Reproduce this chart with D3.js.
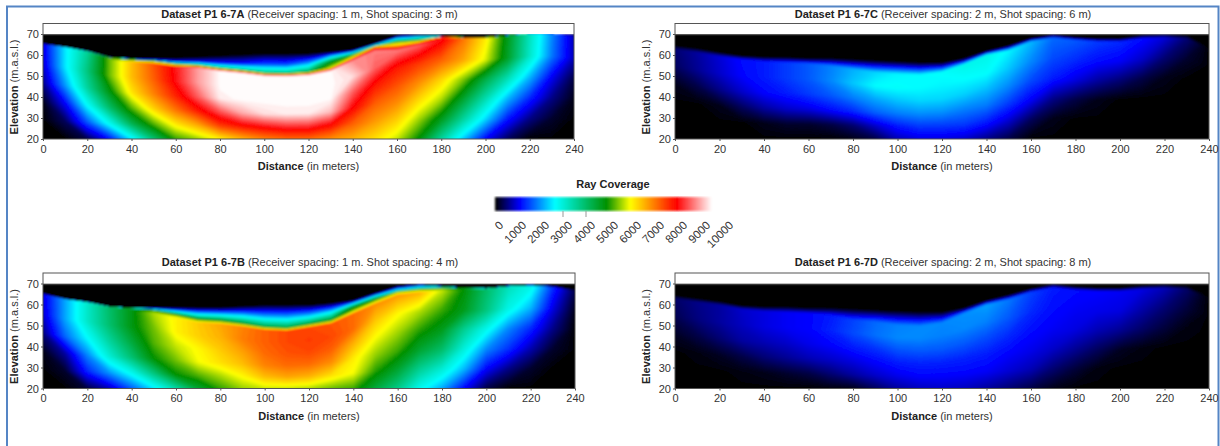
<!DOCTYPE html>
<html lang="en">
<head>
<meta charset="UTF-8">
<title>Ray coverage</title>
<script src="https://d3js.org/d3.v7.min.js"></script>
<style>
    body { margin: 0; background: #fff; overflow: hidden; }
    svg { display: block; }
    text { font-family: "Liberation Sans", Arial, sans-serif; fill: #333; }
    .tick text { font-size: 11px; }
    .tick line, .domain { stroke: #555; }
    .title, .axis-title { font-size: 11px; }
    .b { font-weight: bold; fill: #222; }
</style>
</head>
<body>
<svg width="1220" height="446"></svg>
<script>
const distances = d3.range(0, 241, 10);
const xTicks = d3.range(0, 241, 20);
const yTicks = [20, 30, 40, 50, 60, 70];
const legendLabels = d3.range(0, 10001, 1000);
const legendTicks = [3000, 4000];
const colorStops = [0, 1150, 2770, 5150, 6230, 8380, 10000];
const colorRange = ["#000000", "#0000ff", "#00ffff", "#009000", "#ffff00", "#ff0000", "#ffffff"];

// elevation of the upper edge of coverage and of the sharp line under it, every 10 m
const upperA = [65, 63.5, 61.5, 58.5, 58, 58, 58, 58.5, 59, 59.5, 60, 60, 60, 61, 62, 65, 68.5, 69, 68.5, 68, 68, 69, 70, 70, 69];
const lineA = [65, 63.5, 61.5, 58.5, 57.5, 56.5, 55, 54.5, 53, 52, 50.7, 50.5, 51, 53, 58, 62.7, 63, 65.5, 68, 68, 68, 69, 70, 70, 69];
const upperB = [64.8, 62.3, 60.8, 58.6, 58, 58, 58, 58, 58, 58.5, 59, 59, 59, 60, 61.5, 65, 68, 68.9, 68.2, 67.5, 67.3, 68.3, 68.8, 68.2, 66.5];
const lineB = [64.8, 62.3, 60.8, 58.6, 57.8, 56.7, 54.5, 52.2, 51.5, 50.2, 48.6, 48.1, 49.8, 51.6, 56.3, 61, 65.2, 66.5, 67.4, 67.5, 67.3, 68.3, 68.8, 68.2, 66.5];
const upperC = [64, 62.5, 60.5, 59, 58.5, 58.5, 58, 58, 57.5, 57, 56.5, 56, 56, 58, 61.5, 64, 67.5, 69, 68, 67.5, 67.5, 69, 69.5, 69, 65];
const lineC = [63.5, 62, 60, 58.5, 57.5, 57, 56.5, 55.5, 54, 52.5, 51.7, 51.2, 52.5, 56, 60.5, 62.8, 67, 68.8, 67.7, 67, 67, 68.5, 69, 68.5, 64];
const upperD = [64, 62.5, 61, 59, 58.5, 58.5, 58, 58, 57.5, 57, 56.5, 56, 56, 58, 61.5, 64, 67, 69, 68, 67.5, 67.5, 68.5, 69, 68.5, 65];
const lineD = [63.5, 62, 60.5, 58.5, 57.5, 57, 56.5, 55.5, 53.5, 52.5, 51, 50.5, 52, 56.5, 60.5, 63, 66.5, 68.6, 67.5, 67, 67, 68, 68.5, 68, 64];

// one line per distance: coverage from the upper edge down to 20 m
const coverageA = [
    [1000, 1000, 1000, 1000, 900, 600, 100, 0, 0],
    [2600, 2600, 2600, 2600, 2600, 2100, 1150, 400, 0],
    [3800, 3800, 3800, 3800, 4000, 3700, 2800, 1700, 300],
    [5600, 5600, 5600, 5600, 5600, 5000, 4200, 2900, 1200],
    [400, 2000, 5000, 6800, 6800, 6450, 5500, 4400, 2600],
    [300, 2000, 5000, 7700, 7600, 7300, 6600, 5500, 4100],
    [300, 1500, 4500, 8550, 8500, 8100, 7400, 6400, 5350],
    [200, 1300, 4000, 9400, 9400, 9000, 8200, 7000, 5800],
    [200, 1300, 4000, 10000, 10000, 9900, 8900, 7900, 6350],
    [200, 1300, 4000, 10000, 10000, 10000, 9500, 8300, 6900],
    [200, 1700, 4000, 10000, 10000, 10000, 9800, 8500, 7300],
    [200, 1700, 4000, 10000, 10000, 10000, 9900, 8700, 7500],
    [300, 2400, 4500, 10000, 10000, 10000, 9900, 8700, 7500],
    [300, 4800, 6000, 10000, 10000, 10000, 9600, 8300, 7200],
    [500, 5000, 6500, 9300, 9800, 9000, 8400, 7600, 6900],
    [800, 6200, 7500, 9200, 9000, 8200, 7600, 7100, 6500],
    [1000, 5800, 7500, 9200, 8200, 7700, 7200, 6600, 6000],
    [1500, 4500, 6500, 9000, 7900, 7200, 6500, 5800, 5100],
    [3000, 7000, 8300, 8500, 7600, 6600, 5900, 4900, 3700],
    [7400, 7400, 7400, 7400, 7000, 5700, 4700, 3700, 2400],
    [6400, 6400, 6400, 6400, 6100, 4500, 3500, 2500, 1150],
    [4900, 4900, 4900, 4900, 4800, 3500, 2300, 1300, 400],
    [3400, 3400, 3400, 3400, 3300, 2300, 1400, 600, 0],
    [2000, 2000, 2000, 2000, 1900, 1100, 600, 200, 0],
    [800, 800, 800, 800, 800, 300, 100, 0, 0]
];
const coverageB = [
    [1000, 1000, 1000, 1000, 900, 550, 100, 0, 0],
    [2200, 2200, 2200, 2200, 2200, 1800, 700, 200, 0],
    [3300, 3300, 3300, 3300, 3300, 2750, 2000, 1350, 250],
    [4200, 4200, 4200, 4200, 4150, 3700, 3170, 2100, 800],
    [3500, 4500, 5000, 5000, 5000, 4600, 4100, 2900, 1700],
    [1000, 3500, 5200, 5900, 5650, 5500, 5150, 4000, 2600],
    [500, 3000, 5200, 6350, 6350, 6000, 5650, 5150, 3600],
    [300, 2800, 5000, 6700, 6650, 6300, 6200, 5500, 4700],
    [300, 2800, 5000, 7000, 6900, 6700, 6500, 5900, 5350],
    [300, 2700, 4800, 7300, 7350, 7050, 6800, 6300, 5800],
    [300, 2400, 4600, 7600, 7600, 7500, 7300, 6800, 6000],
    [300, 2400, 4600, 7800, 7800, 7700, 7500, 7000, 6000],
    [400, 2500, 4800, 7800, 7900, 7800, 7500, 6900, 5900],
    [400, 3000, 5000, 7700, 7800, 7600, 7200, 6500, 5600],
    [500, 5000, 5600, 7500, 7500, 6900, 6400, 6200, 5400],
    [500, 4500, 5600, 7200, 6700, 6230, 5800, 5300, 4600],
    [1000, 3000, 5500, 7100, 6300, 5850, 5400, 4700, 3900],
    [1500, 3300, 5300, 6900, 5900, 5300, 4700, 3800, 2900],
    [3000, 4500, 5500, 6000, 5400, 4900, 4200, 3200, 2200],
    [5100, 5100, 5100, 5100, 4900, 3800, 3100, 2300, 1150],
    [4200, 4200, 4200, 4200, 4000, 2900, 2000, 1150, 300],
    [3400, 3400, 3400, 3400, 3000, 2000, 1450, 600, 0],
    [2950, 2950, 2950, 2950, 2300, 1400, 800, 200, 0],
    [1400, 1400, 1400, 1400, 1000, 600, 200, 0, 0],
    [300, 300, 300, 300, 100, 0, 0, 0, 0]
];
const coverageC = [
    [100, 500, 400, 100, 0, 0, 0],
    [200, 700, 650, 300, 0, 0, 0],
    [300, 950, 900, 600, 100, 0, 0],
    [300, 1200, 1150, 900, 400, 0, 0],
    [200, 1300, 1300, 1150, 700, 100, 0],
    [100, 1500, 1500, 1300, 900, 200, 0],
    [100, 1700, 1700, 1500, 1000, 200, 0],
    [100, 1950, 2000, 1700, 1200, 300, 0],
    [100, 2250, 2400, 1950, 1400, 500, 100],
    [100, 2500, 2750, 2200, 1750, 900, 300],
    [100, 2700, 2800, 2400, 1950, 1300, 800],
    [100, 2750, 2750, 2500, 2050, 1500, 1000],
    [100, 2800, 2700, 2500, 2050, 1500, 1000],
    [100, 2950, 2750, 2450, 1950, 1500, 900],
    [200, 2950, 2800, 2350, 1900, 1300, 600],
    [300, 2700, 2400, 2000, 1500, 900, 300],
    [300, 2300, 2000, 1600, 1100, 400, 0],
    [300, 1800, 1600, 1300, 600, 100, 0],
    [200, 1700, 1400, 1000, 300, 0, 0],
    [100, 1500, 1200, 700, 100, 0, 0],
    [100, 1400, 1100, 500, 0, 0, 0],
    [100, 1200, 900, 300, 0, 0, 0],
    [100, 950, 500, 100, 0, 0, 0],
    [50, 500, 200, 0, 0, 0, 0],
    [0, 0, 0, 0, 0, 0, 0]
];
const coverageD = [
    [50, 450, 350, 150, 0, 0, 0],
    [50, 600, 550, 300, 50, 0, 0],
    [100, 700, 700, 500, 150, 0, 0],
    [100, 900, 850, 700, 300, 50, 0],
    [100, 1000, 1000, 800, 500, 100, 0],
    [100, 1100, 1100, 900, 650, 200, 0],
    [100, 1150, 1150, 1050, 800, 300, 0],
    [100, 1300, 1350, 1150, 900, 500, 50],
    [100, 1550, 1600, 1300, 1000, 700, 100],
    [100, 1800, 1850, 1450, 1150, 900, 400],
    [100, 1950, 2000, 1650, 1300, 1050, 700],
    [100, 2000, 2000, 1700, 1350, 1150, 850],
    [100, 2000, 1950, 1700, 1350, 1150, 900],
    [100, 2050, 2000, 1700, 1350, 1150, 850],
    [200, 2150, 1950, 1600, 1300, 1100, 700],
    [250, 1900, 1700, 1400, 1150, 950, 500],
    [250, 1550, 1400, 1200, 1050, 800, 300],
    [250, 1300, 1200, 1100, 900, 500, 100],
    [150, 1200, 1100, 1000, 650, 250, 0],
    [100, 1150, 1050, 800, 400, 50, 0],
    [100, 1100, 1000, 650, 150, 0, 0],
    [100, 1000, 750, 450, 50, 0, 0],
    [100, 800, 500, 250, 0, 0, 0],
    [50, 450, 250, 50, 0, 0, 0],
    [0, 0, 0, 0, 0, 0, 0]
];

// where each value row sits: named edges, or a fraction of the way from the line down to 20 m
const rowsWithBand = ["upper", "mid", "above", "below", 0.2, 0.4, 0.6, 0.8, 1];
const rowsPlain = ["upper", "below", 0.2, 0.4, 0.6, 0.8, 1];

const panels = [
    { bold: "Dataset P1 6-7A", rest: " (Receiver spacing: 1 m, Shot spacing: 3 m)", left: 43, right: 574, bottom: 139, titleY: 18, upper: upperA, line: lineA, coverage: coverageA, rows: rowsWithBand },
    { bold: "Dataset P1 6-7C", rest: " (Receiver spacing: 2 m, Shot spacing: 6 m)", left: 675, right: 1209, bottom: 139, titleY: 18, upper: upperC, line: lineC, coverage: coverageC, rows: rowsPlain },
    { bold: "Dataset P1 6-7B", rest: " (Receiver spacing: 1 m. Shot spacing: 4 m)", left: 43, right: 575, bottom: 388.5, titleY: 266, upper: upperB, line: lineB, coverage: coverageB, rows: rowsWithBand },
    { bold: "Dataset P1 6-7D", rest: " (Receiver spacing: 2 m, Shot spacing: 8 m)", left: 675, right: 1209, bottom: 388.5, titleY: 266, upper: upperD, line: lineD, coverage: coverageD, rows: rowsPlain }
];

const svg = d3.select("svg");
const color = d3.scaleLinear().domain(colorStops).range(colorRange).clamp(true);
const thresholds = d3.range(20, 3000, 20).concat(d3.range(3000, 10000, 80));

const defs = svg.append("defs");
defs.append("filter").attr("id", "soft")
    .attr("x", "-2%").attr("y", "-5%").attr("width", "104%").attr("height", "110%")
    .append("feGaussianBlur").attr("stdDeviation", 0.9);

svg.append("rect").attr("x", 7).attr("y", 6.5).attr("width", 1211.5).attr("height", 460)
    .attr("fill", "#fff").attr("stroke", "#5585c5").attr("stroke-width", 2);

function rowElevation(kind, upper, line) {
    const mid = (upper + line) / 2;
    if (kind === "upper") return upper;
    if (kind === "mid") return mid;
    if (kind === "above") return Math.min(line + 0.8, mid);
    if (kind === "below") return line - 0.8;
    return line - 0.8 - kind * (line - 0.8 - 20);
}

panels.forEach((p, index) => {
    const x = d3.scaleLinear().domain([0, 240]).range([p.left, p.right]);
    const y = d3.scaleLinear().domain([20, 70]).range([p.bottom, p.bottom - 105]);
    const g = svg.append("g");
    const clipId = "plot" + index;
    defs.append("clipPath").attr("id", clipId).append("rect")
        .attr("x", x(0)).attr("y", y(70)).attr("width", x(240) - x(0)).attr("height", y(20) - y(70));

    // grid with a spare column each side and a spare row below, so the blur does not eat the edges
    const cols = [0].concat(d3.range(25), [24]);
    const colDist = [-10].concat(distances, [250]);
    const nx = cols.length;
    const ny = p.rows.length + 3;
    const values = new Array(nx * ny);
    const elev = new Array(nx * ny);
    cols.forEach((c, i) => {
        const top = p.upper[c] + 0.15;
        const column = [[72, 0], [top, 0]];
        p.rows.forEach((kind, r) => column.push([rowElevation(kind, p.upper[c], p.line[c]), p.coverage[c][r]]));
        column.push([14, p.coverage[c][p.rows.length - 1]]);
        column.forEach((cell, j) => {
            elev[j * nx + i] = cell[0];
            values[j * nx + i] = cell[1];
        });
    });

    function project(pt) {
        const i = Math.max(0, Math.min(nx - 1, pt[0] - 0.5));
        const j = Math.max(0, Math.min(ny - 1, pt[1] - 0.5));
        const i0 = Math.min(Math.floor(i), nx - 2), j0 = Math.min(Math.floor(j), ny - 2);
        const fx = i - i0, fy = j - j0;
        const e0 = elev[j0 * nx + i0] * (1 - fx) + elev[j0 * nx + i0 + 1] * fx;
        const e1 = elev[(j0 + 1) * nx + i0] * (1 - fx) + elev[(j0 + 1) * nx + i0 + 1] * fx;
        const dist = colDist[i0] * (1 - fx) + colDist[i0 + 1] * fx;
        return [x(dist), y(e0 * (1 - fy) + e1 * fy)];
    }

    const contours = d3.contours().size([nx, ny]).thresholds(thresholds).smooth(true)(values);
    const pathOf = c => c.coordinates.map(poly => poly.map(ring =>
        "M" + ring.map(pt => project(pt).map(v => v.toFixed(2)).join(",")).join("L") + "Z").join("")).join("");

    const field = g.append("g").attr("clip-path", `url(#${clipId})`)
        .append("g").attr("filter", "url(#soft)");
    field.append("rect").attr("x", x(0) - 12).attr("y", y(70)).attr("width", x(240) - x(0) + 24)
        .attr("height", y(20) - y(70) + 12).attr("fill", "#000");
    field.selectAll("path").data(contours.filter(c => c.coordinates.length)).enter().append("path")
        .attr("d", pathOf)
        .attr("fill", c => color(c.value + 20));

    g.append("rect").attr("x", x(0)).attr("y", y(75)).attr("width", x(240) - x(0)).attr("height", y(20) - y(75))
        .attr("fill", "none").attr("stroke", "#555");

    g.append("g").attr("transform", `translate(0,${y(20)})`)
        .call(d3.axisBottom(x).tickValues(xTicks).tickSize(2).tickPadding(4))
        .call(a => a.select(".domain").remove());
    g.append("g").attr("transform", `translate(${x(0)},0)`)
        .call(d3.axisLeft(y).tickValues(yTicks).tickSize(2).tickPadding(2))
        .call(a => a.select(".domain").remove());

    const title = g.append("text").attr("class", "title").attr("text-anchor", "middle")
        .attr("x", (x(0) + x(240)) / 2 + 1).attr("y", p.titleY);
    title.append("tspan").attr("class", "b").text(p.bold);
    title.append("tspan").text(p.rest);

    const xTitle = g.append("text").attr("class", "axis-title").attr("text-anchor", "middle")
        .attr("x", (x(0) + x(240)) / 2).attr("y", p.bottom + 31);
    xTitle.append("tspan").attr("class", "b").text("Distance");
    xTitle.append("tspan").text(" (in meters)");

    const yTitle = g.append("text").attr("class", "axis-title").attr("text-anchor", "middle")
        .attr("transform", `translate(${x(0) - 25},${p.bottom - 52}) rotate(-90)`);
    yTitle.append("tspan").attr("class", "b").text("Elevation");
    yTitle.append("tspan").text(" (m.a.s.l.)");
});

// colour bar
const barX = d3.scaleLinear().domain([0, 10000]).range([495, 712]);
const labelX = d3.scaleLinear().domain([0, 10000]).range([494, 724]);
const gradient = defs.append("linearGradient").attr("id", "ramp");
gradient.selectAll("stop").data(colorStops).enter().append("stop")
    .attr("offset", d => d / 10000)
    .attr("stop-color", d => color(d));
svg.append("text").attr("class", "b").attr("text-anchor", "middle").attr("x", 613).attr("y", 188)
    .style("font-size", "11px").text("Ray Coverage");
svg.append("rect").attr("x", barX(0)).attr("y", 197).attr("width", barX(10000) - barX(0)).attr("height", 14)
    .attr("fill", "url(#ramp)").attr("filter", "url(#soft)");
svg.selectAll(".legend-tick").data(legendTicks).enter().append("line").attr("class", "legend-tick")
    .attr("x1", d => labelX(d)).attr("x2", d => labelX(d)).attr("y1", 211).attr("y2", 217)
    .attr("stroke", "#999");
svg.selectAll(".legend-label").data(legendLabels).enter().append("text").attr("class", "legend-label")
    .attr("text-anchor", "end").style("font-size", "11.5px")
    .attr("transform", d => `translate(${labelX(d) + 10},${226}) rotate(-45)`)
    .text(d => d);
</script>
</body>
</html>
